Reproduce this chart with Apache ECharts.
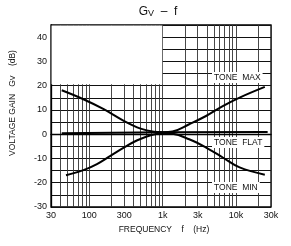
<!DOCTYPE html>
<html><head><meta charset="utf-8">
<script src="https://cdn.jsdelivr.net/npm/echarts@6/dist/echarts.min.js"></script>
<style>html,body{margin:0;padding:0;background:#fff}#c{width:291px;height:246px}</style>
</head><body><div id="c"></div>
<script>
// Frequencies (Hz) and voltage gain (dB)
const freqMax  = [42, 83, 157, 295, 500, 760, 1000, 1360, 2300, 3900, 6600, 11200, 24700];
const toneMax  = [18.1, 14.4, 10.3, 5.5, 2.3, 1.0, 0.8, 1.1, 4.1, 7.5, 11.6, 15.1, 19.5];
const freqMin  = [48, 83, 127, 194, 295, 451, 687, 1000, 1360, 2300, 3900, 6600, 11200, 24700];
const toneMin  = [-16.9, -14.8, -12.3, -8.9, -5.5, -2.5, -0.4, 0.4, 0.2, -2.1, -5.5, -9.6, -13.7, -16.7];
const freqFlat = [42, 1000, 27000];
const toneFlat = [0.4, 0.8, 0.9];
const xTickLabels = [30, 100, 300, 1000, 3000, 10000, 30000];
const xGridValues = [30,40,50,60,70,80,90,100,200,300,400,500,600,700,800,900,1000,2000,3000,4000,5000,6000,7000,8000,9000,10000,20000,30000];
const yTickLabels = [-30, -20, -10, 0, 10, 20, 30, 40];

const pairs = (xs, ys) => xs.map((x, i) => [x, ys[i]]);
const fmtHz = v => v >= 1000 ? (v / 1000) + 'k' : String(v);
const FONT = 'Liberation Sans';

const chart = echarts.init(document.getElementById('c'), null, {renderer: 'canvas'});
const lineStyle = {color: '#000', width: 2};
chart.setOption({
  animation: false,
  backgroundColor: '#fff',
  textStyle: {fontFamily: FONT},
  grid: {left: 51, right: 20, top: 25, bottom: 39, show: true, borderColor: '#000', borderWidth: 1.3},
  xAxis: {
    type: 'log', logBase: 10, min: 30, max: 30000,
    axisLine: {lineStyle: {color: '#000', width: 1.3}},
    axisTick: {show: false, customValues: xGridValues},
    axisLabel: {customValues: xTickLabels, formatter: v => fmtHz(v), color: '#111', fontSize: 9, margin: 4, fontFamily: FONT},
    splitLine: {show: true, lineStyle: {color: '#333', width: 0.9}}
  },
  yAxis: {
    type: 'value', min: -30, max: 45, interval: 5,
    axisLine: {lineStyle: {color: '#000', width: 1.3}},
    axisTick: {show: false},
    axisLabel: {color: '#111', fontSize: 9, margin: 4, fontFamily: FONT,
      formatter: v => yTickLabels.includes(v) ? String(v) : ''},
    splitLine: {show: true, lineStyle: {color: '#111', width: 1.1}}
  },
  series: [
    {type: 'line', data: pairs(freqMax, toneMax), smooth: 0.4, symbol: 'none', lineStyle, z: 5,
     markArea: {silent: true, itemStyle: {color: '#fff'}, data: [[{coord: [30.5, 44.8]}, {coord: [985, 20.6]}]]}},
    {type: 'line', data: pairs(freqMin, toneMin), smooth: 0.4, symbol: 'none', lineStyle, z: 5},
    {type: 'line', data: pairs(freqFlat, toneFlat), smooth: true, symbol: 'none', lineStyle, z: 5}
  ],
  graphic: [
    {type: 'text', x: 158, y: 12, style: {text: 'G{s|V}  –  f', font: '12px ' + FONT, fill: '#111', align: 'center', verticalAlign: 'middle',
      rich: {s: {fontSize: 9, padding: [4, 0, 0, 0]}}}},
    {type: 'text', x: 68, y: 35, style: {text: 'V{s|CC} = 8V', font: '8.5px ' + FONT, fill: '#111', rich: {s: {fontSize: 7, padding: [3,0,0,0]}}}},
    {type: 'text', x: 68, y: 50, style: {text: 'VOLUME = MAX', font: '8.5px ' + FONT, fill: '#111'}},
    {type: 'text', x: 68, y: 67, style: {text: 'BALANCE = CENTER', font: '8.5px ' + FONT, fill: '#111'}},
    {type: 'text', x: 212, y: 72, z: 10, style: {text: 'TONE  MAX', font: '8.5px ' + FONT, fill: '#111', backgroundColor: '#fff', padding: [1, 2]}},
    {type: 'text', x: 212, y: 137, z: 10, style: {text: 'TONE  FLAT', font: '8.5px ' + FONT, fill: '#111', backgroundColor: '#fff', padding: [1, 2]}},
    {type: 'text', x: 212, y: 182, z: 10, style: {text: 'TONE  MIN', font: '8.5px ' + FONT, fill: '#111', backgroundColor: '#fff', padding: [1, 2]}},
    {type: 'text', x: 13, y: 103, rotation: Math.PI / 2, style: {text: 'VOLTAGE GAIN   G{s|V}    (dB)', font: '8.5px ' + FONT, fill: '#111', align: 'center', verticalAlign: 'middle', rich: {s: {fontSize: 7}}}},
    {type: 'text', x: 164, y: 230, style: {text: 'FREQUENCY    f    (Hz)', font: '8.5px ' + FONT, fill: '#111', align: 'center', verticalAlign: 'middle'}}
  ]
});
</script></body></html>
